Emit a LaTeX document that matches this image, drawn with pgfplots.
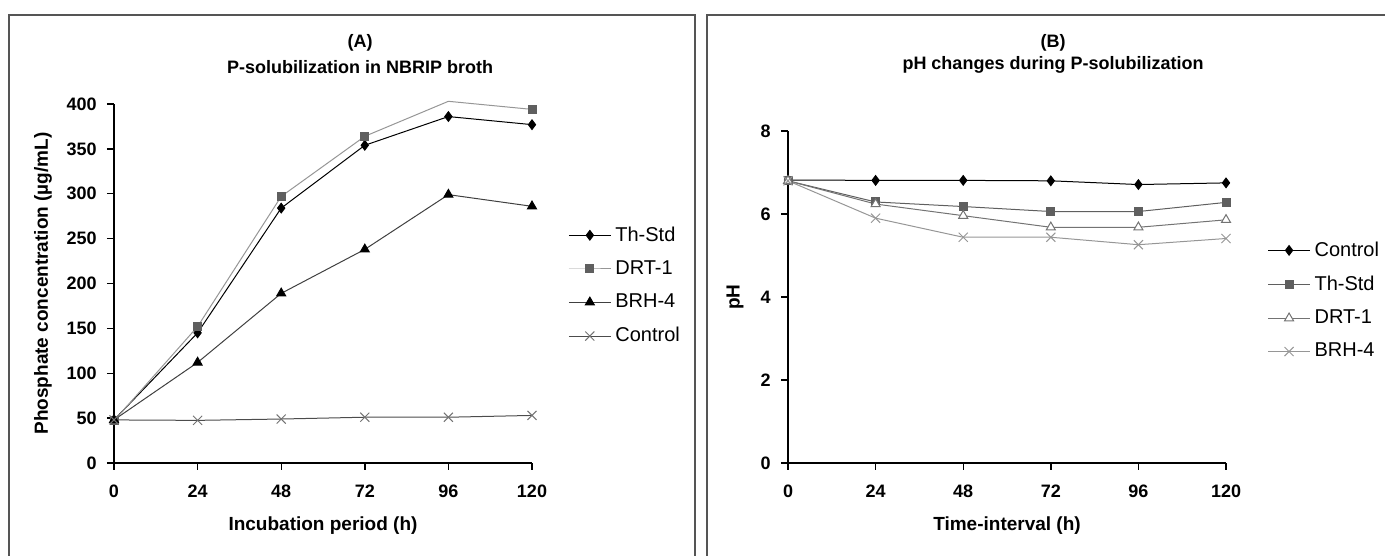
\documentclass[border=0pt]{standalone}
\usepackage{fontspec}
\setmainfont{Liberation Sans}
\usepackage{pgfplots}
\pgfplotsset{compat=1.18}
\definecolor{boxgray}{RGB}{85,85,85}
\definecolor{gA}{RGB}{95,95,95}
\definecolor{gB}{RGB}{150,150,150}
\definecolor{gC}{RGB}{115,115,115}

\pgfplotsset{
  panel/.style={
    scale only axis, anchor=south west, clip=false,
    xmin=0, xmax=120, xtick={0,24,...,120},
    axis lines*=left,
    axis line style={line width=0.7pt, -},
    tick align=outside, major tick length=3.5pt,
    tick style={line width=0.7pt, black},
    /pgf/number format/assume math mode=true,
    ticklabel style={font=\fontsize{9}{10}\selectfont\bfseries, inner sep=0pt},
    xticklabel style={anchor=north, yshift=-7.5pt},
    yticklabel style={anchor=east, xshift=-5pt},
    label style={font=\fontsize{9.5}{11}\selectfont\bfseries},
    xlabel style={at={(axis description cs:0.5,0)}, anchor=center, yshift=-31.5pt},
    every axis plot/.append style={line width=0.5pt},
    legend style={draw=none, fill=none, font=\fontsize{10}{12}\selectfont,
      cells={anchor=west}, row sep=4.3pt, inner sep=0pt,
      /tikz/every even column/.append style={column sep=2.5pt}},
    legend image code/.code={
      \draw[mark repeat=2, mark phase=2, #1]
        plot coordinates {(0pt,0pt) (10.5pt,0pt) (21pt,0pt)};},
  },
}

\begin{document}
\begin{tikzpicture}
\useasboundingbox (0,0) rectangle (692.5pt,278pt);
\clip (0,0) rectangle (692.5pt,278pt);

% panel frames
\draw[boxgray, line width=0.8pt] (4.5pt,-10pt) rectangle (347.5pt,270.5pt);
\draw[boxgray, line width=0.8pt] (353.5pt,-10pt) rectangle (710pt,270.5pt);

% (A) phosphate released
\begin{axis}[panel,
  at={(57pt,46.5pt)}, width=209pt, height=179.5pt,
  ymin=0, ymax=400, ytick={0,50,...,400},
  xlabel={Incubation period (h)},
  ylabel={Phosphate concentration (µg/mL)},
  ylabel style={at={(axis description cs:-0.170,0.5)}, anchor=center},
  legend style={at={(rel axis cs:1.086,0.671)}, anchor=north west},
]
\addplot[black, mark=diamond*, mark size=2.4pt] coordinates
  {(0,48) (24,145) (48,284) (72,354) (96,386) (120,377)};
\addplot[gB, mark=square*, mark size=2pt, mark options={gA}, mark indices={1,2,3,4,6},
  legend image post style={mark indices={2}}] coordinates
  {(0,47) (24,152) (48,297) (72,364) (96,403) (120,394)};
\addplot[black!75, mark=triangle*, mark size=2.6pt, mark options={black}] coordinates
  {(0,48) (24,112) (48,189) (72,238) (96,299) (120,286)};
\addplot[black!70, mark=x, mark size=3.2pt, mark options={gC}] coordinates
  {(0,48) (24,47.5) (48,49) (72,51) (96,51) (120,53)};
\legend{Th-Std, DRT-1, BRH-4, Control}
\end{axis}

% (B) pH
\begin{axis}[panel,
  at={(394pt,46.5pt)}, width=219pt, height=166pt,
  ymin=0, ymax=8, ytick={0,2,...,8},
  xlabel={Time-interval (h)},
  ylabel={pH},
  ylabel style={at={(axis description cs:-0.121,0.5)}, anchor=center},
  legend style={at={(rel axis cs:1.094,0.680)}, anchor=north west},
]
\addplot[black, mark=diamond*, mark size=2.4pt] coordinates
  {(0,6.82) (24,6.81) (48,6.81) (72,6.80) (96,6.71) (120,6.75)};
\addplot[gA, mark=square*, mark size=2pt] coordinates
  {(0,6.8) (24,6.29) (48,6.18) (72,6.06) (96,6.06) (120,6.28)};
\addplot[gC, mark=triangle*, mark size=2.6pt, mark options={fill=white, draw=gC}] coordinates
  {(0,6.8) (24,6.24) (48,5.96) (72,5.68) (96,5.68) (120,5.86)};
\addplot[gB, mark=x, mark size=3.2pt] coordinates
  {(0,6.8) (24,5.9) (48,5.44) (72,5.44) (96,5.26) (120,5.41)};
\legend{Control, Th-Std, DRT-1, BRH-4}
\end{axis}

% panel titles
\node[font=\fontsize{9}{10}\selectfont\bfseries] at (180pt,256.5pt) {(A)};
\node[font=\fontsize{9}{10}\selectfont\bfseries] at (180pt,244.5pt) {P-solubilization in NBRIP broth};
\node[font=\fontsize{9}{10}\selectfont\bfseries] at (526.5pt,256.5pt) {(B)};
\node[font=\fontsize{9}{10}\selectfont\bfseries] at (526.5pt,245.5pt) {pH changes during P-solubilization};
\end{tikzpicture}
\end{document}
